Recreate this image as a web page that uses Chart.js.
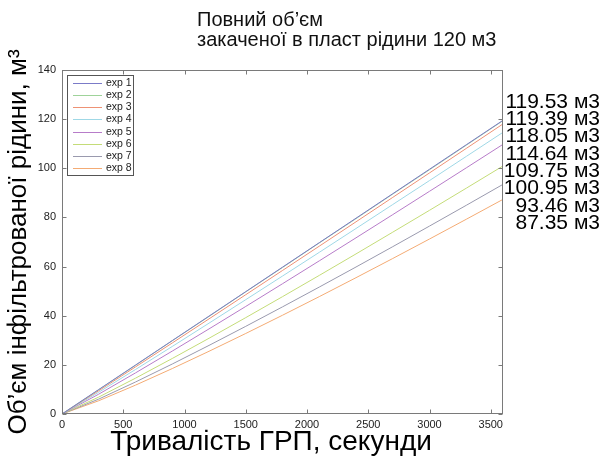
<!DOCTYPE html>
<html>
<head>
<meta charset="utf-8">
<script src="https://cdn.jsdelivr.net/npm/chart.js@4.4.0/dist/chart.umd.min.js"></script>
<style>
  body { margin: 0; background: #fff; }
  #wrap { width: 603px; height: 464px; }
</style>
</head>
<body>
<div id="wrap"><canvas id="chart" width="603" height="464"></canvas></div>
<script>
// time, seconds
const times = [0, 300, 600, 900, 1200, 1500, 1800, 2100, 2400, 2700, 3000, 3300, 3600];

const exp1 = [0, 9.96, 19.92, 29.88, 39.84, 49.80, 59.77, 69.73, 79.69, 89.65, 99.61, 109.57, 119.53];
const exp2 = [0, 9.90, 19.80, 29.80, 39.70, 49.70, 59.60, 69.60, 79.50, 89.50, 99.40, 109.40, 119.39];
const exp3 = [0, 9.48, 19.16, 28.91, 38.71, 48.55, 58.41, 68.30, 78.22, 88.16, 98.11, 108.08, 118.05];
const exp4 = [0, 8.86, 18.11, 27.49, 36.97, 46.53, 56.14, 65.79, 75.50, 85.25, 95.00, 104.82, 114.64];
const exp5 = [0, 8.08, 16.73, 25.60, 34.63, 43.77, 53.01, 62.32, 71.70, 81.14, 90.63, 100.17, 109.75];
const exp6 = [0, 6.89, 14.58, 22.59, 30.82, 39.22, 47.75, 56.40, 65.15, 74.00, 82.90, 91.89, 100.95];
const exp7 = [0, 6.07, 13.02, 20.34, 27.91, 35.68, 43.60, 51.66, 59.82, 68.10, 76.48, 84.93, 93.46];
const exp8 = [0, 5.40, 11.74, 18.49, 25.52, 32.77, 40.19, 47.76, 55.47, 63.29, 71.22, 79.25, 87.35];

const seriesNames = ["exp 1", "exp 2", "exp 3", "exp 4", "exp 5", "exp 6", "exp 7", "exp 8"];
const seriesColors = ["#7b7bc8", "#9fd39a", "#ee9275", "#9fd8e6", "#b77cc9", "#c4dc78", "#9a9aae", "#f4ab74"];
const endLabels = ["119.53 м3", "119.39 м3", "118.05 м3", "114.64 м3", "109.75 м3", "100.95 м3", "93.46 м3", "87.35 м3"];
const xTickValues = [0, 500, 1000, 1500, 2000, 2500, 3000, 3500];

const titleLines = ["Повний об’єм", "закаченої в пласт рідини 120 м3"];
const xTitle = "Тривалість ГРП, секунди";
const yTitle = "Об’єм інфільтрованої рідини, м³";

const allSeries = [exp1, exp2, exp3, exp4, exp5, exp6, exp7, exp8];
const FONT = "'Liberation Sans', Arial, Helvetica, sans-serif";

const datasets = allSeries.map((vals, i) => ({
  label: seriesNames[i],
  data: vals.map((v, j) => ({ x: times[j], y: v })),
  borderColor: seriesColors[i],
  borderWidth: 1,
  pointRadius: 0,
  fill: false,
  tension: 0
}));

// box, inward ticks, legend, titles and end labels
const decor = {
  id: "decor",
  afterDraw(chart) {
    const { ctx, chartArea: a } = chart;
    const xs = chart.scales.x, ys = chart.scales.y;
    ctx.save();
    ctx.strokeStyle = "#7a7a7a";
    ctx.lineWidth = 1;
    const L = Math.round(a.left) + 0.5, R = Math.round(a.right) - 0.5;
    const T = Math.round(a.top) + 0.5, B = Math.round(a.bottom) - 0.5;
    ctx.strokeRect(L, T, R - L, B - T);

    ctx.beginPath();
    xs.ticks.forEach(t => {
      const px = Math.round(xs.getPixelForValue(t.value)) + 0.5;
      ctx.moveTo(px, B); ctx.lineTo(px, B - 4);
      ctx.moveTo(px, T); ctx.lineTo(px, T + 4);
    });
    ys.ticks.forEach(t => {
      const py = Math.round(ys.getPixelForValue(t.value)) + 0.5;
      ctx.moveTo(L, py); ctx.lineTo(L + 4, py);
      ctx.moveTo(R, py); ctx.lineTo(R - 4, py);
    });
    ctx.stroke();

    // legend
    ctx.fillStyle = "#fff";
    ctx.fillRect(67.5, 75.5, 66, 100);
    ctx.strokeStyle = "#555";
    ctx.strokeRect(67.5, 75.5, 66, 100);
    ctx.font = "10.5px " + FONT;
    ctx.textBaseline = "middle";
    ctx.textAlign = "left";
    chart.data.datasets.forEach((ds, i) => {
      const yy = Math.round(83 + i * 12.15) + 0.5;
      ctx.strokeStyle = ds.borderColor;
      ctx.beginPath();
      ctx.moveTo(73, yy); ctx.lineTo(102, yy);
      ctx.stroke();
      ctx.fillStyle = "#222";
      ctx.fillText(ds.label, 106, yy);
    });

    // title
    ctx.fillStyle = "#111";
    ctx.font = "20px " + FONT;
    ctx.textBaseline = "alphabetic";
    ctx.fillText(titleLines[0], 197, 26);
    ctx.fillText(titleLines[1], 197, 46);

    // x axis title
    ctx.fillStyle = "#000";
    ctx.font = "28px " + FONT;
    ctx.textAlign = "center";
    ctx.textBaseline = "middle";
    ctx.fillText(xTitle, 271, 442);

    // end-of-line volumes
    ctx.font = "21px " + FONT;
    ctx.textAlign = "right";
    endLabels.forEach((s, i) => {
      ctx.fillText(s, 600, 102 + i * 17.3);
    });
    ctx.restore();
  }
};

new Chart(document.getElementById("chart"), {
  type: "line",
  data: { datasets: datasets },
  options: {
    responsive: false,
    animation: false,
    layout: { padding: { top: 70, right: 100, left: 0, bottom: 0 } },
    plugins: { legend: { display: false }, tooltip: { enabled: false } },
    scales: {
      x: {
        type: "linear",
        min: 0,
        max: 3600,
        afterFit: s => { s.height = 50; },
        afterBuildTicks: s => { s.ticks = xTickValues.map(v => ({ value: v })); },
        grid: { display: false, drawTicks: false },
        border: { display: false },
        ticks: {
          autoSkip: false,
          padding: 4,
          color: "#222",
          font: { family: FONT, size: 11 },
          maxRotation: 0,
          callback: v => String(v)
        }
      },
      y: {
        min: 0,
        max: 140,
        afterFit: s => { s.width = 62; },
        grid: { display: false, drawTicks: false },
        border: { display: false },
        ticks: {
          stepSize: 20,
          padding: 6,
          color: "#222",
          font: { family: FONT, size: 11 }
        },
        title: {
          display: true,
          text: yTitle,
          color: "#000",
          font: { family: FONT, size: 26 },
          padding: { top: 3, bottom: 0 }
        }
      }
    }
  },
  plugins: [decor]
});
</script>
</body>
</html>
